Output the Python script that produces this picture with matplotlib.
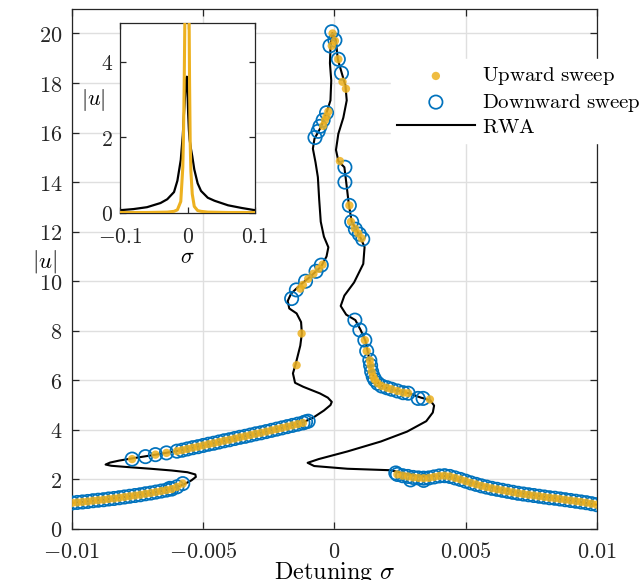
import numpy as np
import matplotlib
matplotlib.use("Agg")
import matplotlib.pyplot as plt

plt.rcParams["mathtext.fontset"] = "cm"
plt.rcParams["font.family"] = "serif"

BLUE = "#0072BD"
ORANGE = "#EDB120"

# ── Data (main axes: sigma in units of 1e-3) ─────────────────────
rwa_sigma = [-10.0, -9.0, -8.0, -7.0, -6.4, -6.0, -5.7, -5.45, -5.28, -5.3, -5.6, -6.2,
             -7.0, -7.9, -8.5, -8.72, -8.55, -8.2, -7.7, -6.8, -6.0, -5.0, -4.0, -3.0,
             -2.0, -1.2, -0.8, -0.4, -0.15, -0.1, -0.25, -0.55, -1.19, -1.5, -1.58, -1.47,
             -1.3, -1.24, -1.27, -1.44, -1.72, -1.78, -1.65, -1.3, -0.9, -0.5, -0.3, -0.23,
             -0.4, -0.52, -0.58, -0.63, -0.72, -0.82, -0.76, -0.5, -0.3, -0.15, -0.12, -0.17,
             -0.15, -0.08, 0.05, 0.13, 0.27, 0.42, 0.47, 0.34, 0.15, 0.06, 0.15, 0.38,
             0.45, 0.55, 0.66, 0.95, 1.15, 1.1, 0.75, 0.38, 0.24, 0.45, 0.8, 1.0,
             1.18, 1.27, 1.35, 1.42, 1.55, 1.75, 2.1, 2.5, 2.85, 3.3, 3.65, 3.8,
             3.75, 3.5, 2.77, 1.77, 0.5, -0.6, -1.02, -0.77, 0.5, 2.15, 2.6, 3.2,
             4.0, 4.3, 5.0, 6.0, 7.0, 8.0, 9.0, 10.0]
rwa_u = [1.05, 1.16, 1.29, 1.45, 1.57, 1.69, 1.82, 1.96, 2.1, 2.2, 2.29, 2.36,
         2.43, 2.5, 2.55, 2.6, 2.68, 2.76, 2.85, 3.0, 3.15, 3.37, 3.6, 3.84,
         4.08, 4.3, 4.5, 4.78, 5.0, 5.13, 5.3, 5.47, 5.74, 5.9, 6.28, 6.68,
         7.4, 7.89, 8.35, 8.7, 8.9, 9.2, 9.5, 9.85, 10.2, 10.6, 11.0, 11.37,
         11.8, 12.4, 13.3, 14.2, 14.8, 15.35, 15.75, 16.25, 16.8, 17.3, 18.1, 18.8,
         19.4, 20.02, 19.75, 18.96, 18.44, 17.9, 17.3, 16.6, 15.95, 15.3, 14.85, 14.6,
         14.0, 13.1, 12.4, 11.86, 11.38, 10.7, 9.95, 9.42, 9.0, 8.65, 8.43, 8.03,
         7.6, 7.15, 6.75, 6.35, 6.02, 5.8, 5.65, 5.56, 5.47, 5.3, 5.2, 4.98,
         4.7, 4.35, 3.93, 3.53, 3.13, 2.82, 2.67, 2.54, 2.43, 2.37, 2.25, 2.12,
         2.13, 2.13, 1.92, 1.67, 1.46, 1.3, 1.15, 0.98]

# dense branches, visited by both sweeps
low_left_sigma = [-10.0, -9.8, -9.6, -9.4, -9.2, -9.0, -8.8, -8.6, -8.4, -8.2, -8.0, -7.8,
                  -7.6, -7.4, -7.2, -7.0, -6.8, -6.6, -6.4, -6.2, -6.0, -5.78]
low_left_u = [1.05, 1.07, 1.09, 1.11, 1.14, 1.16, 1.18, 1.21, 1.23, 1.26, 1.29, 1.32,
              1.35, 1.38, 1.42, 1.45, 1.49, 1.53, 1.57, 1.61, 1.7, 1.83]
up_left_sigma = [-7.71, -6.82, -6.4, -6.0, -5.8, -5.6, -5.4, -5.2, -5.0, -4.8, -4.6, -4.4,
                 -4.2, -4.0, -3.8, -3.6, -3.4, -3.2, -3.0, -2.8, -2.6, -2.4, -2.2,
                 -2.0, -1.8, -1.6, -1.4, -1.2]
up_left_u = [2.82, 3.0, 3.07, 3.14, 3.18, 3.23, 3.28, 3.32, 3.37, 3.42, 3.46, 3.51,
             3.56, 3.6, 3.65, 3.7, 3.74, 3.79, 3.84, 3.88, 3.93, 3.98, 4.03,
             4.08, 4.13, 4.18, 4.23, 4.28]
mid_right_sigma = [1.16, 1.23, 1.35, 1.38, 1.42, 1.48, 1.54, 1.65, 1.8, 2.0, 2.18, 2.4,
                   2.62, 2.81]
mid_right_u = [7.62, 7.18, 6.81, 6.6, 6.35, 6.15, 6.02, 5.88, 5.77, 5.7, 5.64, 5.57,
               5.5, 5.48]
low_right_sigma = [2.4, 2.6, 2.8, 3.0, 3.2, 3.4, 3.6, 3.8, 4.0, 4.2, 4.4, 4.6, 4.8,
                   5.0, 5.2, 5.4, 5.6, 5.8, 6.0, 6.2, 6.4, 6.6, 6.8, 7.0, 7.2, 7.4,
                   7.6, 7.8, 8.0, 8.2, 8.4, 8.6, 8.8, 9.0, 9.2, 9.4, 9.6, 9.8, 10.0]
low_right_u = [2.2, 2.15, 2.12, 2.08, 2.06, 2.05, 2.06, 2.1, 2.14, 2.15, 2.12, 2.06, 2.0,
               1.93, 1.86, 1.8, 1.74, 1.69, 1.64, 1.6, 1.56, 1.52, 1.48, 1.44, 1.41, 1.38,
               1.35, 1.32, 1.29, 1.26, 1.24, 1.21, 1.18, 1.15, 1.12, 1.09, 1.06, 1.02, 0.98]

# isolated points of each sweep
up_extra_sigma = [-1.44, -1.25, -0.45, -0.6, -0.8, -1.0, -1.2, -1.3,
                  -0.23, -0.3, -0.36, -0.43, -0.07, 0.02, -0.1, 0.15, 0.31, 0.44,
                  0.21, 0.57, 0.63, 0.78, 0.91, 1.04, 3.64]
up_extra_u = [6.61, 7.89, 10.67, 10.5, 10.3, 10.1, 9.85, 9.7,
              16.85, 16.65, 16.5, 16.27, 20.0, 19.7, 19.5, 18.96, 18.05, 17.77,
              14.85, 13.06, 12.4, 12.13, 11.93, 11.73, 5.23]
down_extra_sigma = [-7.2, -1.1, -1.0, -0.5, -0.7, -1.1, -1.45, -1.63,
                    -0.3, -0.43, -0.55, -0.62, -0.74, -0.1, 0.02, -0.17, 0.15, 0.27,
                    0.4, 0.4, 0.57, 0.66, 0.8, 0.95, 1.08, 0.78, 0.97, 3.19, 3.38,
                    -6.27, 2.34, 2.9, 3.4]
down_extra_u = [2.92, 4.32, 4.35, 10.65, 10.4, 10.0, 9.65, 9.3,
                16.8, 16.5, 16.25, 16.05, 15.8, 20.07, 19.73, 19.5, 18.96, 18.4,
                14.6, 14.0, 13.06, 12.4, 12.1, 11.9, 11.7, 8.43, 8.03, 5.27, 5.27,
                1.64, 2.26, 1.98, 1.96]

# ── Data (inset) ─────────────────────────────────────────────────
inset_rwa_sigma = [-0.1, -0.08, -0.06, -0.04, -0.03, -0.02, -0.015, -0.01, -0.007, -0.005,
                   -0.003, -0.002, -0.001, 0.0, 0.001, 0.002, 0.003, 0.005, 0.007, 0.01,
                   0.015, 0.02, 0.03, 0.04, 0.06, 0.08, 0.1]
inset_rwa_u = [0.07, 0.1, 0.15, 0.26, 0.36, 0.55, 0.85, 1.4, 2.05, 2.7,
               3.3, 3.5, 3.6, 3.2, 2.6, 2.2, 1.95, 1.7, 1.5, 1.15,
               0.78, 0.58, 0.4, 0.32, 0.2, 0.13, 0.07]
inset_sim_sigma = [-0.1, -0.06, -0.03, -0.02, -0.015, -0.01, -0.007, -0.006, -0.005, -0.004,
                   -0.003, -0.001, 0.0, 0.001, 0.002, 0.003, 0.004, 0.005, 0.007, 0.01,
                   0.015, 0.02, 0.03, 0.06, 0.1]
inset_sim_u = [0.01, 0.01, 0.02, 0.04, 0.08, 0.3, 1.2, 2.0, 3.3, 5.0,
               8.0, 15.0, 20.0, 12.0, 6.0, 3.5, 1.8, 1.1, 0.5, 0.17,
               0.06, 0.04, 0.02, 0.01, 0.01]

up_sigma = np.concatenate([low_left_sigma, up_left_sigma, mid_right_sigma, low_right_sigma, up_extra_sigma]) * 1e-3
up_u = np.concatenate([low_left_u, up_left_u, mid_right_u, low_right_u, up_extra_u])
down_sigma = np.concatenate([low_left_sigma, up_left_sigma, mid_right_sigma, low_right_sigma, down_extra_sigma]) * 1e-3
down_u = np.concatenate([low_left_u, up_left_u, mid_right_u, low_right_u, down_extra_u])

TICK_FS = 16
LABEL_FS = 17.5
LEG_FS = 15
AX_COLOR = "#262626"

fig = plt.figure(figsize=(6.4, 5.8), dpi=100)
ax = fig.add_axes([0.1125, 0.088, 0.82, 0.897])

ax.plot(np.array(rwa_sigma) * 1e-3, rwa_u, color="black", lw=1.5, zorder=2, label=r"$\mathrm{RWA}$")
ax.scatter(down_sigma, down_u, s=92, facecolors="none", edgecolors=BLUE,
           linewidths=1.25, zorder=3, label=r"$\mathrm{Downward\ sweep}$")
ax.scatter(up_sigma, up_u, s=36, color=ORANGE, alpha=0.85, edgecolors="none",
           zorder=4, label=r"$\mathrm{Upward\ sweep}$")

ax.set_xlim(-0.01, 0.01)
ax.set_ylim(0, 21)
xt = [-0.01, -0.005, 0, 0.005, 0.01]
ax.set_xticks(xt, [r"$-0.01$", r"$-0.005$", r"$0$", r"$0.005$", r"$0.01$"])
yt = list(range(0, 21, 2))
ax.set_yticks(yt, [rf"${v}$" for v in yt])
ax.tick_params(direction="in", top=True, right=True, length=5, width=0.9,
               colors=AX_COLOR, labelsize=TICK_FS, pad=7)
ax.tick_params(axis="x", pad=8.5)
ax.grid(True, color="#dfdfdf", lw=1.0)
ax.set_axisbelow(True)
for sp in ax.spines.values():
    sp.set_color(AX_COLOR)
    sp.set_linewidth(0.9)

ax.set_xlabel(r"$\mathrm{Detuning}\ \sigma$", fontsize=LABEL_FS)
ax.xaxis.set_label_coords(0.5, -0.06)
ax.set_ylabel(r"$|u|$", fontsize=16.5, rotation=0, va="center", ha="center")
ax.yaxis.set_label_coords(-0.053, 0.515)

handles, labels = ax.get_legend_handles_labels()
order = [2, 1, 0]
leg = ax.legend([handles[i] for i in order], [labels[i] for i in order],
                loc="upper left", bbox_to_anchor=(0.607, 0.903), frameon=True,
                facecolor="white", edgecolor="white", framealpha=1, fancybox=False,
                handlelength=3.75, handletextpad=0.34, labelspacing=0.2,
                fontsize=LEG_FS, borderpad=0.3, borderaxespad=0, scatterpoints=1)
leg.set_zorder(10)

# ── Inset ───────────────────────────────────────────────────────
axin = fig.add_axes([0.1875, 0.633, 0.211, 0.328])
axin.plot(inset_rwa_sigma, inset_rwa_u, color="black", lw=1.6, zorder=2)
axin.plot(inset_sim_sigma, inset_sim_u, color=ORANGE, lw=2.2, zorder=3)
axin.set_xlim(-0.1, 0.1)
axin.set_ylim(0, 5.03)
axin.set_xticks([-0.1, 0, 0.1], [r"$-0.1$", r"$0$", r"$0.1$"])
axin.set_yticks([0, 2, 4], [r"$0$", r"$2$", r"$4$"])
axin.tick_params(direction="in", top=True, right=True, length=4, width=0.9,
                 colors=AX_COLOR, labelsize=15.5, pad=5)
axin.tick_params(axis="x", pad=9.5)
for sp in axin.spines.values():
    sp.set_color(AX_COLOR)
    sp.set_linewidth(0.9)
axin.set_xlabel(r"$\sigma$", fontsize=16)
axin.xaxis.set_label_coords(0.5, -0.175)
axin.set_ylabel(r"$|u|$", fontsize=16, rotation=0, va="center", ha="center")
axin.yaxis.set_label_coords(-0.195, 0.595)

fig.savefig("out.png", dpi=100)
